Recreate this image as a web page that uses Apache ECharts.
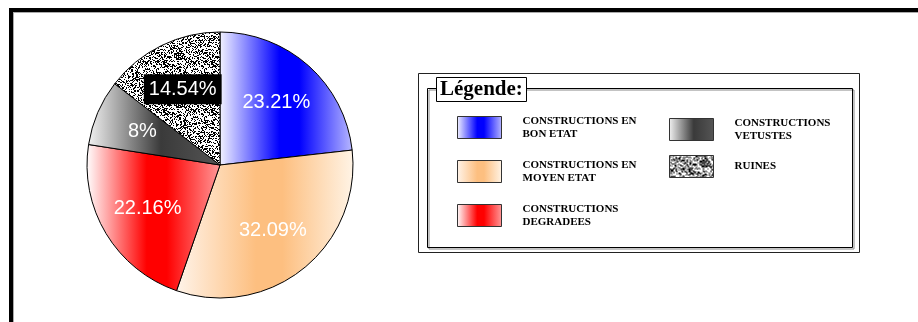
<!DOCTYPE html>
<html>
<head>
<meta charset="utf-8">
<script src="https://cdn.jsdelivr.net/npm/echarts@6/dist/echarts.min.js"></script>
<style>
  html, body { margin: 0; padding: 0; background: #fff; }
  #chart { width: 918px; height: 322px; }
</style>
</head>
<body>
<div id="chart"></div>
<script>
// categories and shares (%)
var categories = [
  'CONSTRUCTIONS EN\nBON ETAT',
  'CONSTRUCTIONS EN\nMOYEN ETAT',
  'CONSTRUCTIONS\nDEGRADEES',
  'CONSTRUCTIONS\nVETUSTES',
  'RUINES'
];
var shares = [23.21, 32.09, 22.16, 8, 14.54];
var legendLeft = [0, 1, 2];
var legendRight = [3, 4];

// speckled texture for the "ruines" slice
function noiseCanvas() {
  var c = document.createElement('canvas');
  c.width = 48; c.height = 48;
  var ctx = c.getContext('2d');
  ctx.fillStyle = '#fff';
  ctx.fillRect(0, 0, 48, 48);
  ctx.fillStyle = '#000';
  var s = 12345;
  for (var y = 0; y < 48; y++) {
    for (var x = 0; x < 48; x++) {
      s = (s * 1103515245 + 12345) & 0x7fffffff;
      if ((s >> 8) % 100 < 38) ctx.fillRect(x, y, 1, 1);
    }
  }
  return c;
}

function grad(a, b, c) {
  return new echarts.graphic.LinearGradient(0, 0, 1, 0, [
    { offset: 0, color: a },
    { offset: 0.45, color: b },
    { offset: 0.6, color: b },
    { offset: 1, color: c }
  ]);
}

var fills = [
  grad('#f4f4ff', '#0000ff', '#b8b8ff'),
  grad('#fff4ea', '#fdbf80', '#fff4e6'),
  grad('#ffffff', '#ff0000', '#ff9a9a'),
  new echarts.graphic.LinearGradient(0, 0, 1, 0, [
    { offset: 0, color: '#f2f2f2' },
    { offset: 0.55, color: '#3a3a3a' },
    { offset: 1, color: '#555555' }
  ]),
  { image: noiseCanvas(), repeat: 'repeat' }
];

var chart = echarts.init(document.getElementById('chart'));

var legendText = {
  color: '#000',
  fontFamily: 'Liberation Serif',
  fontWeight: 'bold',
  fontSize: 11,
  lineHeight: 13,
  padding: [5, 0, 0, 16]
};

var option = {
  animation: false,
  title: {
    text: 'Légende:',
    left: 436,
    top: 77,
    padding: [1, 4, 0, 4],
    backgroundColor: '#fff',
    borderColor: '#000',
    borderWidth: 1,
    textStyle: {
      color: '#000',
      fontFamily: 'Liberation Serif',
      fontWeight: 'bold',
      fontSize: 21,
      lineHeight: 24
    },
    z: 10
  },
  legend: [
    {
      data: legendLeft.map(function (i) { return categories[i]; }),
      orient: 'vertical',
      left: 457,
      top: 112,
      padding: 0,
      itemWidth: 44,
      itemHeight: 22,
      itemGap: 13,
      icon: 'rect',
      selectedMode: false,
      itemStyle: { borderColor: '#333', borderWidth: 1 },
      textStyle: legendText
    },
    {
      data: legendRight.map(function (i) { return categories[i]; }),
      orient: 'vertical',
      left: 669,
      top: 114,
      padding: 0,
      itemWidth: 44,
      itemHeight: 22,
      itemGap: 10,
      icon: 'rect',
      selectedMode: false,
      itemStyle: { borderColor: '#333', borderWidth: 1 },
      textStyle: legendText
    }
  ],
  graphic: [
    {
      type: 'rect',
      shape: { x: 11, y: 10, width: 1000, height: 400 },
      style: { fill: 'none', stroke: '#000', lineWidth: 4, shadowColor: '#aaa', shadowOffsetX: 1, shadowOffsetY: 1 }
    },
    {
      type: 'rect',
      shape: { x: 418.5, y: 73.5, width: 441, height: 179 },
      style: { fill: 'none', stroke: '#222', lineWidth: 1 }
    },
    {
      type: 'rect',
      shape: { x: 427.5, y: 88.5, width: 425, height: 159 },
      style: { fill: 'none', stroke: '#000', lineWidth: 1, shadowColor: '#888', shadowOffsetX: 1.5, shadowOffsetY: 1.5 }
    }
  ],
  series: [
    {
      type: 'pie',
      center: [220, 165],
      radius: [0, 133],
      startAngle: 90,
      clockwise: true,
      silent: true,
      label: { show: false },
      labelLine: { show: false },
      itemStyle: { borderColor: '#000', borderWidth: 1 },
      data: categories.map(function (n, i) {
        return { name: n, value: shares[i], itemStyle: { color: fills[i] } };
      })
    },
    {
      type: 'pie',
      center: [220, 165],
      radius: [30, 133],
      startAngle: 90,
      clockwise: true,
      silent: true,
      legendHoverLink: false,
      itemStyle: { color: 'rgba(0,0,0,0)', borderWidth: 0 },
      labelLine: { show: false },
      label: {
        show: true,
        position: 'inside',
        formatter: '{c}%',
        color: '#fff',
        fontFamily: 'Liberation Sans',
        fontSize: 20
      },
      data: categories.map(function (n, i) {
        var d = { name: n, value: shares[i] };
        if (i === 4) {
          d.label = { backgroundColor: '#000', padding: [5, 5] };
        }
        return d;
      })
    }
  ]
};

chart.setOption(option);
</script>
</body>
</html>
